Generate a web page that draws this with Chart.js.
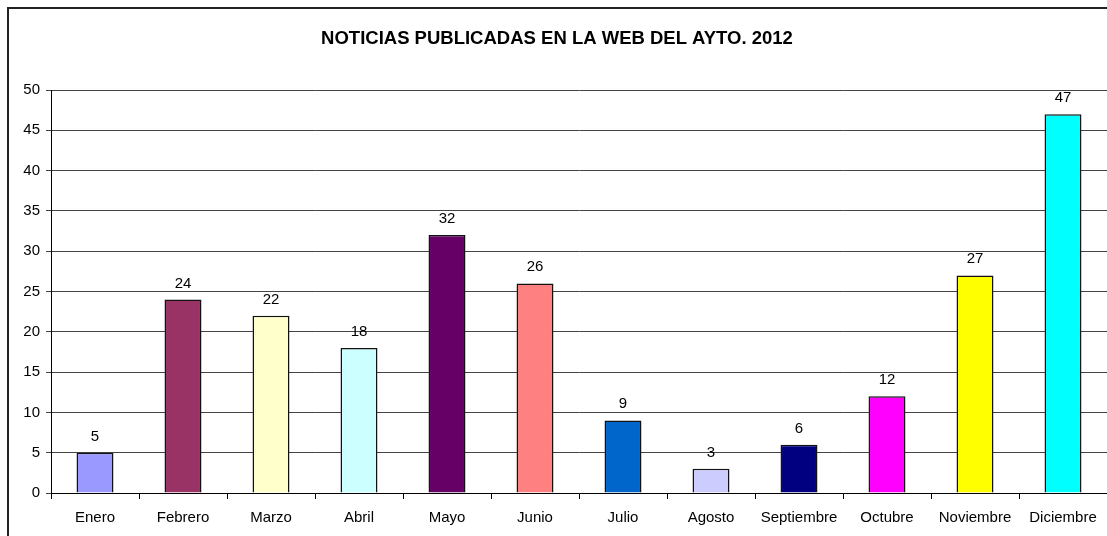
<!DOCTYPE html>
<html>
<head>
<meta charset="utf-8">
<script src="https://cdn.jsdelivr.net/npm/chart.js@4.4.0/dist/chart.umd.min.js"></script>
<style>
  html, body { margin: 0; padding: 0; background: #fff; overflow: hidden; }
  #wrap { position: relative; width: 1107px; height: 536px; }
  #frame { position: absolute; left: 7px; top: 7px; width: 1120px; height: 560px; border: 2px solid #222; box-sizing: border-box; }
  canvas { position: absolute; left: 0; top: 0; }
</style>
</head>
<body>
<div id="wrap">
  <div id="frame"></div>
  <canvas id="noticiasChart" width="1107" height="536"></canvas>
</div>
<script>
// Datos del grafico
const meses = ['Enero', 'Febrero', 'Marzo', 'Abril', 'Mayo', 'Junio', 'Julio', 'Agosto', 'Septiembre', 'Octubre', 'Noviembre', 'Diciembre'];
const noticias = [5, 24, 22, 18, 32, 26, 9, 3, 6, 12, 27, 47];
const colores = ['#9999FF', '#993366', '#FFFFCC', '#CCFFFF', '#660066', '#FF8080', '#0066CC', '#CCCCFF', '#000080', '#FF00FF', '#FFFF00', '#00FFFF'];
const titulo = 'NOTICIAS PUBLICADAS EN LA WEB DEL AYTO. 2012';

const FONT = '"Liberation Sans", Arial, sans-serif';

// titulo y etiquetas de valor
const labelsPlugin = {
    id: 'labelsPlugin',
    afterDatasetsDraw(chart) {
        const ctx = chart.ctx;
        ctx.save();
        ctx.fillStyle = '#000';
        ctx.font = 'bold 18.5px ' + FONT;
        ctx.textAlign = 'center';
        ctx.textBaseline = 'middle';
        ctx.fillText(titulo, 557, 39);

        ctx.font = '15px ' + FONT;
        ctx.textBaseline = 'alphabetic';
        const meta = chart.getDatasetMeta(0);
        meta.data.forEach((bar, i) => {
            ctx.fillText(String(noticias[i]), bar.x, bar.y - 12);
        });
        ctx.restore();
    }
};

const ctx = document.getElementById('noticiasChart');
new Chart(ctx, {
    type: 'bar',
    data: {
        labels: meses,
        datasets: [{
            data: noticias,
            backgroundColor: colores,
            borderColor: '#111',
            borderWidth: 1.5,
            categoryPercentage: 1,
            barPercentage: 0.42
        }]
    },
    options: {
        responsive: false,
        animation: false,
        layout: { padding: { top: 90, right: 0, left: 0, bottom: 0 } },
        plugins: { legend: { display: false }, tooltip: { enabled: false }, title: { display: false } },
        scales: {
            x: {
                grid: { drawOnChartArea: false, drawTicks: true, tickLength: 6, color: '#000', offset: true },
                border: { color: '#000', width: 1 },
                ticks: { color: '#000', font: { family: FONT, size: 15 }, padding: 10, maxRotation: 0, autoSkip: false },
                afterFit(scale) { scale.height = 43; }
            },
            y: {
                min: 0,
                max: 50,
                grid: { color: '#444', tickLength: 5, drawTicks: true },
                border: { color: '#000', width: 1 },
                ticks: { stepSize: 5, color: '#000', font: { family: FONT, size: 15 }, padding: 6 },
                afterFit(scale) { scale.width = 51; }
            }
        }
    },
    plugins: [labelsPlugin]
});
</script>
</body>
</html>
